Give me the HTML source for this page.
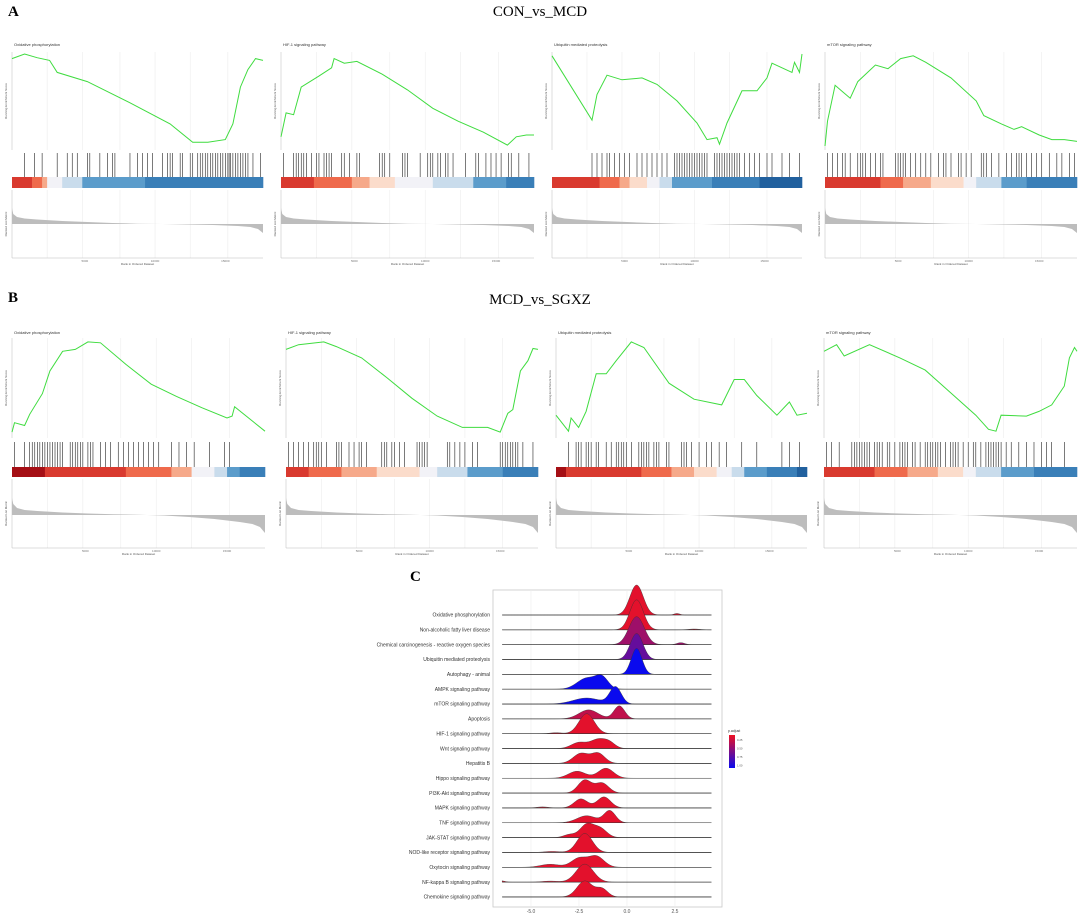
<!DOCTYPE html>
<html><head><meta charset="utf-8"><style>
html,body{margin:0;padding:0;background:#fff;}
svg{display:block;font-family:"Liberation Sans",sans-serif;}
.ttl{font-family:"Liberation Serif",serif;}
</style></head><body>
<svg id="fig" width="1080" height="914" viewBox="0 0 1080 914" xmlns="http://www.w3.org/2000/svg">
<text class="ttl" x="8" y="16" font-size="15" font-weight="bold">A</text>
<text class="ttl" x="540" y="16" font-size="15" text-anchor="middle">CON_vs_MCD</text>
<text class="ttl" x="8" y="302" font-size="15" font-weight="bold">B</text>
<text class="ttl" x="540" y="304" font-size="15" text-anchor="middle">MCD_vs_SGXZ</text>
<text class="ttl" x="410" y="581" font-size="15" font-weight="bold">C</text>
<g id="gsea"></g>
<g id="ridge"></g>
</svg>
<script>
// ---------- GSEA data ----------
const plotTitles = ["Oxidative phosphorylation","HIF-1 signaling pathway","Ubiquitin mediated proteolysis","mTOR signaling pathway"];
const esXA1=[0,0.05,0.1,0.15,0.18,0.3,0.47,0.63,0.72,0.78,0.85,0.88,0.91,0.94,0.97,1];
const esYA1=[0.95,1.0,0.96,0.93,0.8,0.7,0.47,0.24,0.04,0.04,0.07,0.24,0.64,0.83,0.95,0.93];
const esXA2=[0,0.02,0.05,0.08,0.15,0.2,0.21,0.25,0.3,0.4,0.5,0.6,0.7,0.8,0.895,0.93,0.97,1];
const esYA2=[0.1,0.36,0.34,0.64,0.76,0.85,0.95,0.9,0.92,0.78,0.61,0.41,0.27,0.15,0.01,0.1,0.12,0.12];
const esXA3=[0,0.16,0.18,0.22,0.28,0.36,0.42,0.5,0.58,0.62,0.66,0.67,0.7,0.76,0.82,0.86,0.88,0.92,0.96,0.97,0.99,1];
const esYA3=[0.98,0.28,0.56,0.77,0.72,0.74,0.67,0.49,0.25,0.07,0.09,0.02,0.25,0.6,0.6,0.74,0.9,0.85,0.8,0.91,0.8,1.0];
const esXA4=[0,0.01,0.04,0.07,0.1,0.13,0.2,0.25,0.3,0.35,0.4,0.5,0.6,0.63,0.7,0.75,0.78,0.85,0.9,0.95,1];
const esYA4=[0,0.27,0.66,0.59,0.52,0.7,0.88,0.84,0.95,0.98,0.91,0.74,0.49,0.33,0.24,0.18,0.21,0.12,0.07,0.07,0.05];
const esXB1=[0,0.01,0.05,0.07,0.12,0.15,0.2,0.25,0.3,0.35,0.45,0.55,0.65,0.75,0.85,0.87,0.88,1];
const esYB1=[0.02,0.12,0.09,0.21,0.43,0.67,0.88,0.9,0.98,0.97,0.74,0.53,0.4,0.28,0.17,0.19,0.29,0.03];
const esXB2=[0,0.05,0.15,0.2,0.3,0.4,0.5,0.6,0.7,0.8,0.85,0.88,0.9,0.93,0.96,0.98,1];
const esYB2=[0.9,0.95,0.98,0.93,0.81,0.6,0.38,0.19,0.07,0.07,0.02,0.22,0.26,0.67,0.78,0.91,0.9];
const esXB3=[0,0.05,0.06,0.09,0.12,0.16,0.2,0.24,0.3,0.35,0.45,0.55,0.66,0.71,0.75,0.8,0.88,0.93,0.96,1];
const esYB3=[0.2,0.03,0.17,0.07,0.24,0.64,0.64,0.78,0.98,0.92,0.54,0.37,0.31,0.58,0.58,0.41,0.2,0.34,0.2,0.22];
const esXB4=[0,0.05,0.08,0.18,0.3,0.4,0.5,0.6,0.65,0.68,0.7,0.8,0.85,0.9,0.95,0.97,0.99,1];
const esYB4=[0.88,0.95,0.83,0.95,0.81,0.68,0.44,0.2,0.05,0.03,0.2,0.19,0.24,0.31,0.51,0.81,0.92,0.88];
const hitsA1=[0.05,0.09,0.12,0.18,0.22,0.24,0.26,0.3,0.31,0.35,0.38,0.4,0.41,0.47,0.5,0.52,0.54,0.56,0.6,0.62,0.63,0.64,0.67,0.68,0.71,0.72,0.74,0.75,0.76,0.77,0.78,0.79,0.8,0.81,0.82,0.83,0.84,0.85,0.86,0.865,0.87,0.88,0.89,0.9,0.91,0.92,0.93,0.94,0.96,0.99];
const hitsA2=[0.01,0.05,0.06,0.07,0.08,0.09,0.1,0.12,0.14,0.15,0.17,0.18,0.19,0.2,0.24,0.25,0.27,0.3,0.31,0.39,0.4,0.41,0.43,0.48,0.49,0.5,0.55,0.58,0.59,0.6,0.62,0.63,0.65,0.66,0.68,0.73,0.77,0.78,0.81,0.83,0.85,0.87,0.9,0.91,0.94,0.98];
const hitsA3=[0.16,0.18,0.2,0.22,0.23,0.25,0.27,0.29,0.31,0.34,0.36,0.38,0.4,0.42,0.44,0.46,0.49,0.5,0.51,0.52,0.53,0.54,0.55,0.56,0.57,0.58,0.59,0.6,0.61,0.62,0.65,0.66,0.67,0.68,0.69,0.7,0.71,0.72,0.73,0.74,0.75,0.77,0.79,0.81,0.83,0.86,0.88,0.92,0.95,0.99];
const hitsA4=[0.01,0.03,0.05,0.07,0.08,0.1,0.13,0.14,0.15,0.16,0.18,0.2,0.22,0.23,0.28,0.29,0.3,0.31,0.32,0.34,0.36,0.38,0.4,0.42,0.45,0.47,0.48,0.5,0.53,0.54,0.56,0.58,0.62,0.63,0.64,0.66,0.69,0.72,0.74,0.76,0.77,0.78,0.8,0.82,0.84,0.86,0.89,0.92,0.94,0.97,0.99];
const hitsB1=[0.01,0.05,0.07,0.08,0.09,0.1,0.11,0.12,0.13,0.14,0.15,0.16,0.17,0.18,0.19,0.2,0.23,0.24,0.25,0.26,0.27,0.28,0.3,0.31,0.32,0.35,0.37,0.39,0.42,0.44,0.46,0.48,0.5,0.52,0.54,0.56,0.58,0.63,0.66,0.69,0.72,0.78,0.84,0.86];
const hitsB2=[0.01,0.03,0.05,0.07,0.09,0.11,0.12,0.13,0.14,0.16,0.2,0.21,0.22,0.25,0.27,0.29,0.3,0.32,0.38,0.39,0.4,0.42,0.43,0.45,0.47,0.52,0.53,0.54,0.55,0.56,0.64,0.65,0.67,0.69,0.71,0.74,0.76,0.85,0.86,0.87,0.88,0.89,0.9,0.91,0.92,0.94,0.98];
const hitsB3=[0.05,0.08,0.09,0.1,0.12,0.13,0.14,0.16,0.17,0.2,0.22,0.24,0.25,0.26,0.27,0.28,0.3,0.33,0.34,0.35,0.36,0.37,0.39,0.4,0.41,0.44,0.45,0.5,0.51,0.52,0.54,0.57,0.6,0.62,0.65,0.68,0.74,0.8,0.9,0.93,0.97];
const hitsB4=[0.01,0.03,0.06,0.11,0.12,0.13,0.14,0.15,0.16,0.17,0.18,0.2,0.21,0.22,0.23,0.25,0.26,0.28,0.3,0.31,0.32,0.33,0.35,0.36,0.38,0.4,0.41,0.42,0.43,0.44,0.45,0.46,0.48,0.5,0.51,0.52,0.53,0.55,0.57,0.59,0.6,0.62,0.64,0.65,0.66,0.67,0.68,0.69,0.7,0.72,0.74,0.77,0.8,0.83,0.86,0.88,0.9,0.95];
const palette=["#a50f15","#d93a2f","#ef6a4c","#f6a98a","#fbdccb","#f2f2f7","#c9dcec","#8fbcdc","#5b9ccb","#3a7fb8","#21609e"];
const segEndA1=[0.08,0.12,0.14,0.2,0.28,0.53,1], segColA1=[1,2,3,5,6,8,9];
const segEndA2=[0.13,0.28,0.35,0.45,0.6,0.76,0.89,1], segColA2=[1,2,3,4,5,6,8,9];
const segEndA3=[0.19,0.27,0.31,0.38,0.43,0.48,0.64,0.83,1], segColA3=[1,2,3,4,5,6,8,9,10];
const segEndA4=[0.22,0.31,0.42,0.55,0.6,0.7,0.8,1], segColA4=[1,2,3,4,5,6,8,9];
const segEndB1=[0.13,0.45,0.63,0.71,0.8,0.85,0.9,1], segColB1=[0,1,2,3,5,6,8,9];
const segEndB2=[0.09,0.22,0.36,0.53,0.6,0.72,0.86,1], segColB2=[1,2,3,4,5,6,8,9];
const segEndB3=[0.04,0.34,0.46,0.55,0.64,0.7,0.75,0.84,0.96,1], segColB3=[0,1,2,3,4,5,6,8,9,10];
const segEndB4=[0.2,0.33,0.45,0.55,0.6,0.7,0.83,1], segColB4=[1,2,3,4,5,6,8,9];
const rankX=[0,0.005,0.02,0.05,0.1,0.2,0.3,0.4,0.5,0.6,0.7,0.8,0.9,0.95,0.98,1];
const rankA=[16,10,7,5.5,4.5,3,2,1,0.3,0,-0.5,-1,-2,-3,-5,-9];
const rankB=[17,11,7,5,4,2.5,1.5,0.8,0.2,-0.5,-2,-4,-7,-9,-12,-18];

const NS="http://www.w3.org/2000/svg";
function mk(tag,attrs,parent){const e=document.createElementNS(NS,tag);for(const k in attrs)e.setAttribute(k,attrs[k]);parent.appendChild(e);return e;}
const G=document.getElementById('gsea');

const panels=[
 {L:12,R:263,esT:52,esB:150,hT:153,hB:177,cB:188,bT:190,bB:258,z:224,ttlY:46,ex:esXA1,ey:esYA1,hits:hitsA1,se:segEndA1,sc:segColA1,rk:rankA,t:0,id:'a1'},
 {L:281,R:534,esT:52,esB:150,hT:153,hB:177,cB:188,bT:190,bB:258,z:224,ttlY:46,ex:esXA2,ey:esYA2,hits:hitsA2,se:segEndA2,sc:segColA2,rk:rankA,t:1,id:'a2'},
 {L:552,R:802,esT:52,esB:150,hT:153,hB:177,cB:188,bT:190,bB:258,z:224,ttlY:46,ex:esXA3,ey:esYA3,hits:hitsA3,se:segEndA3,sc:segColA3,rk:rankA,t:2,id:'a3'},
 {L:825,R:1077,esT:52,esB:150,hT:153,hB:177,cB:188,bT:190,bB:258,z:224,ttlY:46,ex:esXA4,ey:esYA4,hits:hitsA4,se:segEndA4,sc:segColA4,rk:rankA,t:3,id:'a4'},
 {L:12,R:265,esT:338,esB:438,hT:442,hB:467,cB:477,bT:479,bB:548,z:515,ttlY:334,ex:esXB1,ey:esYB1,hits:hitsB1,se:segEndB1,sc:segColB1,rk:rankB,t:0,id:'b1'},
 {L:286,R:538,esT:338,esB:438,hT:442,hB:467,cB:477,bT:479,bB:548,z:515,ttlY:334,ex:esXB2,ey:esYB2,hits:hitsB2,se:segEndB2,sc:segColB2,rk:rankB,t:1,id:'b2'},
 {L:556,R:807,esT:338,esB:438,hT:442,hB:467,cB:477,bT:479,bB:548,z:515,ttlY:334,ex:esXB3,ey:esYB3,hits:hitsB3,se:segEndB3,sc:segColB3,rk:rankB,t:2,id:'b3'},
 {L:824,R:1077,esT:338,esB:438,hT:442,hB:467,cB:477,bT:479,bB:548,z:515,ttlY:334,ex:esXB4,ey:esYB4,hits:hitsB4,se:segEndB4,sc:segColB4,rk:rankB,t:3,id:'b4'}
];
panels.forEach(p=>{
  const g=mk('g',{},G);
  
  
  const xs=f=>p.L+f*(p.R-p.L);
  const ys=v=>p.esB-4-v*(p.esB-p.esT-6);
  const rs=v=>p.z-v*1.0;
  [0.14,0.28,0.43,0.57,0.71,0.86].forEach(f=>{
    mk('line',{x1:xs(f),x2:xs(f),y1:p.esT,y2:p.esB,stroke:'#ececec','stroke-width':0.6},g);
    mk('line',{x1:xs(f),x2:xs(f),y1:p.bT,y2:p.bB,stroke:'#ececec','stroke-width':0.6},g);
  });
  mk('line',{x1:p.L,x2:p.L,y1:p.esT,y2:p.esB,stroke:'#bbb','stroke-width':0.5},g);
  mk('line',{x1:p.L,x2:p.L,y1:p.bT,y2:p.bB,stroke:'#bbb','stroke-width':0.5},g);
  mk('line',{x1:p.L,x2:p.R,y1:p.bB,y2:p.bB,stroke:'#bbb','stroke-width':0.5},g);
  const tt=mk('text',{x:p.L+2,y:p.ttlY,'font-size':4,fill:'#333'},g);tt.textContent=plotTitles[p.t];
  
  
  const yl=mk('text',{x:0,y:0,'font-size':3,fill:'#555','text-anchor':'middle',transform:`translate(${p.L-5},${(p.esT+p.esB)/2}) rotate(-90)`},g);yl.textContent='Running Enrichment Score';
  
  
  const yl2=mk('text',{x:0,y:0,'font-size':3,fill:'#555','text-anchor':'middle',transform:`translate(${p.L-5},${(p.bT+p.bB)/2}) rotate(-90)`},g);yl2.textContent='Ranked List Metric';
  
  
  const xl=mk('text',{x:(p.L+p.R)/2,y:p.bB+7,'font-size':3,fill:'#555','text-anchor':'middle'},g);xl.textContent='Rank in Ordered Dataset';
  
  
  ['5000','10000','15000'].forEach((s,i)=>{const t=mk('text',{x:xs(0.28*(i+1)+0.01),y:p.bB+4,'font-size':3,fill:'#777','text-anchor':'middle'},g);t.textContent=s;
    
    });
  let d=`M${xs(0)},${rs(0)}`;
  p.rk.forEach((v,i)=>{d+=` L${xs(rankX[i])},${rs(v)}`;});
  d+=` L${xs(1)},${rs(0)} Z`;
  const ra=mk('path',{d:d,fill:'#bdbdbd'},g);
  
  
  let prev=0;
  p.se.forEach((e,i)=>{const r=mk('rect',{x:xs(prev),y:p.hB,width:xs(e)-xs(prev)+0.3,height:p.cB-p.hB,fill:palette[p.sc[i]]},g);
    
    prev=e;});
  p.hits.forEach(h=>{const l=mk('line',{x1:xs(h),x2:xs(h),y1:p.hT,y2:p.hB,stroke:'#222','stroke-width':0.6},g);
    
    });
  let pts=p.ex.map((x,i)=>`${xs(x).toFixed(1)},${ys(p.ey[i]).toFixed(1)}`).join(' ');
  const pl=mk('polyline',{points:pts,fill:'none',stroke:'#3fdc3f','stroke-width':1},g);
  
  
});

// ---------- Ridge plot data ----------
const pathways=["Oxidative phosphorylation","Non-alcoholic fatty liver disease","Chemical carcinogenesis - reactive oxygen species","Ubiquitin mediated proteolysis","Autophagy - animal","AMPK signaling pathway","mTOR signaling pathway","Apoptosis","HIF-1 signaling pathway","Wnt signaling pathway","Hepatitis B","Hippo signaling pathway","PI3K-Akt signaling pathway","MAPK signaling pathway","TNF signaling pathway","JAK-STAT signaling pathway","NOD-like receptor signaling pathway","Oxytocin signaling pathway","NF-kappa B signaling pathway","Chemokine signaling pathway"];
const peakCenters=[[0.5,2.6],[0.5,3.5],[0.5,2.8],[0.5],[0.5],[-2.1,-1.3],[-2.1,-0.6],[-2,-0.4],[-2.1,-3.7],[-2.5,-1.5,-0.9],[-2.4,-1.5],[-2.6,-1.1],[-2.2,-1.3],[-2.4,-1.2,-4.4],[-2.1,-0.9],[-2.1,-1.4,-3],[-2.2,-3.9],[-2.5,-1.6,-4],[-2.2,-6.6,-4],[-2.2,-1.3]];
const peakWidths=[[0.35,0.15],[0.35,0.3],[0.4,0.2],[0.33],[0.28],[0.5,0.33],[0.7,0.3],[0.5,0.28],[0.4,0.3],[0.4,0.4,0.3],[0.4,0.35],[0.45,0.4],[0.35,0.35],[0.35,0.35,0.3],[0.5,0.3],[0.35,0.35,0.3],[0.4,0.4],[0.4,0.4,0.5],[0.45,0.2,0.4],[0.4,0.3]];
const peakHeights=[[30,1.5],[30,0.8],[28,2],[26],[26],[11,11],[6,17],[9,13],[20,1],[6,9,5],[10,10],[7,10],[13,10],[9,11,1],[7,12],[13,9,3],[19,1],[9,11,3],[18,1.5,1],[16,8]];
const pAdjust=[0.05,0.05,0.35,0.6,1,1,1,0.2,0.05,0.05,0.05,0.05,0.05,0.05,0.05,0.05,0.05,0.05,0.05,0.05];
const xTicks=[-5,-2.5,0,2.5];
const xTickLabels=["-5.0","-2.5","0.0","2.5"];

const R=document.getElementById('ridge');
const cx=v=>627+v*19.2;
const rowY=i=>615+i*14.84;
function pcol(p){
  const a=[238,17,34], b=[10,10,238];
  const c=a.map((v,k)=>Math.round(v+(b[k]-v)*p));
  return `rgb(${c[0]},${c[1]},${c[2]})`;
}
const frame=mk('rect',{x:493,y:590,width:229,height:317,fill:'none',stroke:'#c8c8c8','stroke-width':0.8},R);


xTicks.forEach((v,i)=>{
  const l=mk('line',{x1:cx(v),x2:cx(v),y1:590,y2:907,stroke:'#ececec','stroke-width':0.6},R);
  
  
  const t=mk('text',{x:cx(v),y:913,'font-size':5,fill:'#555','text-anchor':'middle'},R);t.textContent=xTickLabels[i];
  
  
});
pathways.forEach((name,i)=>{
  const y0=rowY(i);
  const lab=mk('text',{x:490,y:y0+1.7,'font-size':5,fill:'#333','text-anchor':'end'},R);lab.textContent=name;
  
  
  let d=`M${cx(-6.5)},${y0}`;
  for(let x=-6.5;x<=4.4001;x+=0.04){
    let h=0;peakCenters[i].forEach((m,k)=>{const s=peakWidths[i][k];h+=peakHeights[i][k]*Math.exp(-0.5*((x-m)/s)**2);});
    d+=` L${cx(x).toFixed(2)},${(y0-h).toFixed(2)}`;
  }
  d+=` L${cx(4.4)},${y0} Z`;
  const rg=mk('path',{d:d,fill:pcol(pAdjust[i]),stroke:'#333','stroke-width':0.4},R);
  
  
  const bl=mk('line',{x1:cx(-6.5),x2:cx(4.4),y1:y0,y2:y0,stroke:'#333','stroke-width':0.6},R);
  
  
});
const defs=mk('defs',{},R);
const lg=mk('linearGradient',{id:'pg',x1:0,y1:0,x2:0,y2:1},defs);
mk('stop',{offset:0,'stop-color':pcol(0)},lg);mk('stop',{offset:1,'stop-color':pcol(1)},lg);
const lt=mk('text',{x:728,y:732,'font-size':3.5,fill:'#333'},R);lt.textContent='p.adjust';


const lb=mk('rect',{x:729,y:735,width:6,height:33,fill:'url(#pg)'},R);


['0.25','0.50','0.75','1.00'].forEach((s,i)=>{const t=mk('text',{x:737,y:741+i*8.5,'font-size':2.8,fill:'#555'},R);t.textContent=s;
  
  });
</script>
</body></html>
